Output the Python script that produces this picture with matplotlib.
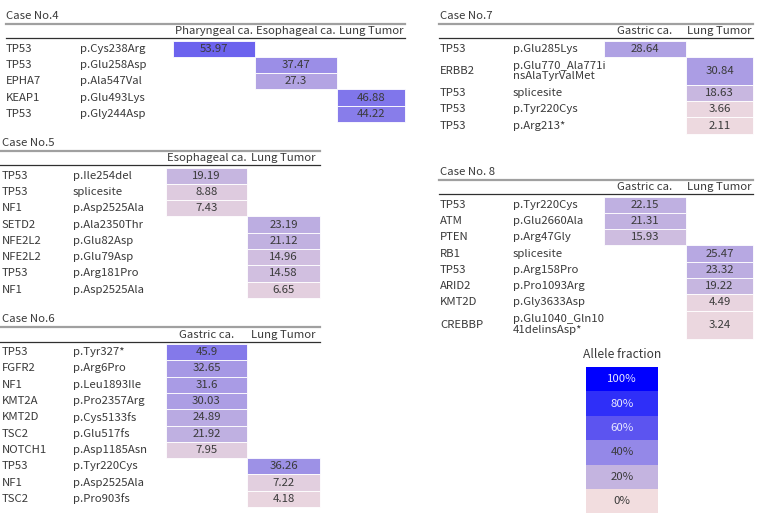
import matplotlib.pyplot as plt
from matplotlib.colors import LinearSegmentedColormap
from matplotlib.patches import Rectangle

plt.rcParams['font.family'] = ['Noto Sans CJK JP', 'DejaVu Sans']

# ---- data ----
case4_title = 'Case No.4'
case4_headers = ['Pharyngeal ca.', 'Esophageal ca.', 'Lung Tumor']
case4_genes = ['TP53', 'TP53', 'EPHA7', 'KEAP1', 'TP53']
case4_muts = ['p.Cys238Arg', 'p.Glu258Asp', 'p.Ala547Val', 'p.Glu493Lys', 'p.Gly244Asp']
case4_vals = [53.97, 37.47, 27.3, 46.88, 44.22]
case4_cols = [0, 1, 1, 2, 2]

case5_title = 'Case No.5'
case5_headers = ['Esophageal ca.', 'Lung Tumor']
case5_genes = ['TP53', 'TP53', 'NF1', 'SETD2', 'NFE2L2', 'NFE2L2', 'TP53', 'NF1']
case5_muts = ['p.Ile254del', 'splicesite', 'p.Asp2525Ala', 'p.Ala2350Thr',
              'p.Glu82Asp', 'p.Glu79Asp', 'p.Arg181Pro', 'p.Asp2525Ala']
case5_vals = [19.19, 8.88, 7.43, 23.19, 21.12, 14.96, 14.58, 6.65]
case5_cols = [0, 0, 0, 1, 1, 1, 1, 1]

case6_title = 'Case No.6'
case6_headers = ['Gastric ca.', 'Lung Tumor']
case6_genes = ['TP53', 'FGFR2', 'NF1', 'KMT2A', 'KMT2D', 'TSC2', 'NOTCH1',
               'TP53', 'NF1', 'TSC2']
case6_muts = ['p.Tyr327*', 'p.Arg6Pro', 'p.Leu1893Ile', 'p.Pro2357Arg',
              'p.Cys5133fs', 'p.Glu517fs', 'p.Asp1185Asn',
              'p.Tyr220Cys', 'p.Asp2525Ala', 'p.Pro903fs']
case6_vals = [45.9, 32.65, 31.6, 30.03, 24.89, 21.92, 7.95, 36.26, 7.22, 4.18]
case6_cols = [0, 0, 0, 0, 0, 0, 0, 1, 1, 1]

case7_title = 'Case No.7'
case7_headers = ['Gastric ca.', 'Lung Tumor']
case7_genes = ['TP53', 'ERBB2', 'TP53', 'TP53', 'TP53']
case7_muts = ['p.Glu285Lys', 'p.Glu770_Ala771i\nnsAlaTyrValMet', 'splicesite',
              'p.Tyr220Cys', 'p.Arg213*']
case7_vals = [28.64, 30.84, 18.63, 3.66, 2.11]
case7_cols = [0, 1, 1, 1, 1]

case8_title = 'Case No. 8'
case8_headers = ['Gastric ca.', 'Lung Tumor']
case8_genes = ['TP53', 'ATM', 'PTEN', 'RB1', 'TP53', 'ARID2', 'KMT2D', 'CREBBP']
case8_muts = ['p.Tyr220Cys', 'p.Glu2660Ala', 'p.Arg47Gly', 'splicesite',
              'p.Arg158Pro', 'p.Pro1093Arg', 'p.Gly3633Asp',
              'p.Glu1040_Gln10\n41delinsAsp*']
case8_vals = [22.15, 21.31, 15.93, 25.47, 23.32, 19.22, 4.49, 3.24]
case8_cols = [0, 0, 0, 1, 1, 1, 1, 1]

legend_vals = [100, 80, 60, 40, 20, 0]
legend_labels = ['100%', '80%', '60%', '40%', '20%', '0%']

# allele fraction colour scale
cmap = LinearSegmentedColormap.from_list('af', [
    (0.0, '#f2dddf'), (0.2, '#c4b4e0'), (0.4, '#9488e8'),
    (0.6, '#5c54f0'), (0.8, '#2f2ff8'), (1.0, '#0000ff')])

TXT = '#3a3a3a'
FS = 8.2
ROW_H = 16.3
DBL_H = 28

fig = plt.figure(figsize=(7.59, 5.14), dpi=100)
ax = fig.add_axes([0, 0, 1, 1])
ax.set_xlim(0, 759)
ax.set_ylim(514, 0)
ax.axis('off')


def draw_case(title, headers, genes, muts, vals, cols,
              top, x0, x1, gene_x, mut_x, edges):
    # title and rules
    ax.text(gene_x, top - 22, title, fontsize=FS, color=TXT, va='center', ha='left')
    ax.plot([x0, x1], [top - 14.5, top - 14.5], color='#a0a0a0', lw=1.6)
    for i, h in enumerate(headers):
        ax.text((edges[i] + edges[i + 1]) / 2, top - 7, h, fontsize=FS,
                color=TXT, ha='center', va='center')
    ax.plot([x0, x1], [top, top], color='#303030', lw=0.9)
    y = top + 2.5
    for g, m, v, c in zip(genes, muts, vals, cols):
        h = DBL_H if '\n' in m else ROW_H
        ax.add_patch(Rectangle((edges[c], y), edges[c + 1] - edges[c], h,
                               facecolor=cmap(v / 100), edgecolor='white', lw=0.6))
        ax.text(gene_x, y + h / 2, g, fontsize=FS, color=TXT, va='center')
        ax.text(mut_x, y + h / 2, m, fontsize=FS, color=TXT, va='center',
                linespacing=1.05)
        ax.text((edges[c] + edges[c + 1]) / 2, y + h / 2, f'{v:g}', fontsize=FS,
                color=TXT, ha='center', va='center')
        y += h


draw_case(case4_title, case4_headers, case4_genes, case4_muts, case4_vals, case4_cols,
          38, 6, 405, 6, 80, [173, 255, 337, 405])
draw_case(case5_title, case5_headers, case5_genes, case5_muts, case5_vals, case5_cols,
          165, 0, 320, 2, 73, [166, 247, 320])
draw_case(case6_title, case6_headers, case6_genes, case6_muts, case6_vals, case6_cols,
          341.5, 0, 320, 2, 73, [166, 247, 320])
draw_case(case7_title, case7_headers, case7_genes, case7_muts, case7_vals, case7_cols,
          38, 439, 753, 440, 513, [604, 686, 753])
draw_case(case8_title, case8_headers, case8_genes, case8_muts, case8_vals, case8_cols,
          194, 439, 753, 440, 513, [604, 686, 753])

# legend
ax.text(622, 355, 'Allele fraction', fontsize=FS + 0.5, color=TXT,
        ha='center', va='center')
lh = 24.4
for i, (v, lab) in enumerate(zip(legend_vals, legend_labels)):
    y = 367 + i * lh
    ax.add_patch(Rectangle((586, y), 72, lh, facecolor=cmap(v / 100),
                           edgecolor='none'))
    ax.text(622, y + lh / 2, lab, fontsize=FS, ha='center', va='center',
            color='#e8e8ff' if v >= 60 else TXT)

fig.savefig('out.png', dpi=100)
